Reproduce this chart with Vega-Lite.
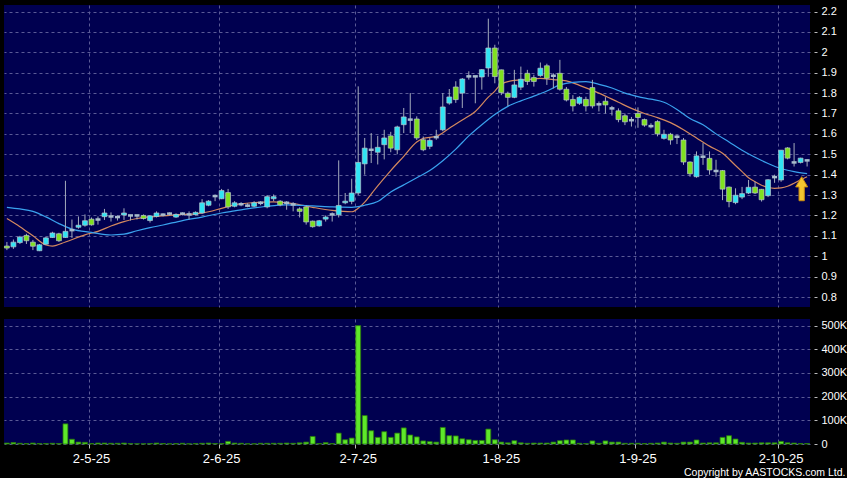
{
  "$schema": "https://vega.github.io/schema/vega-lite/v6.json",
  "background": "#000000",
  "padding": {"left": 4, "top": 5, "right": 0, "bottom": 0},
  "spacing": 12,
  "config": {
    "view": {"fill": "#000050", "stroke": null},
    "axis": {"labelColor": "#ffffff", "labelFont": "Liberation Sans", "labelFontSize": 11, "gridColor": "#5a5a96", "gridDash": [3, 3], "gridWidth": 1, "domain": false, "tickColor": "#bbbbbb", "titleColor": "#ffffff"}
  },
  "datasets": {
    "candles": [
      {"d":"2025-04-10","o":1.05,"h":1.07,"l":1.03,"c":1.04,"v":4000},
      {"d":"2025-04-11","o":1.046,"h":1.082,"l":1.036,"c":1.069,"v":6000},
      {"d":"2025-04-14","o":1.067,"h":1.10,"l":1.06,"c":1.094,"v":3000},
      {"d":"2025-04-15","o":1.102,"h":1.11,"l":1.06,"c":1.076,"v":2000},
      {"d":"2025-04-16","o":1.069,"h":1.08,"l":1.03,"c":1.049,"v":4000},
      {"d":"2025-04-17","o":1.027,"h":1.06,"l":1.025,"c":1.056,"v":2000},
      {"d":"2025-04-22","o":1.059,"h":1.095,"l":1.055,"c":1.09,"v":2000},
      {"d":"2025-04-23","o":1.092,"h":1.12,"l":1.09,"c":1.114,"v":3000},
      {"d":"2025-04-24","o":1.11,"h":1.115,"l":1.07,"c":1.076,"v":2000},
      {"d":"2025-04-25","o":1.092,"h":1.37,"l":1.09,"c":1.122,"v":85000},
      {"d":"2025-04-28","o":1.128,"h":1.18,"l":1.09,"c":1.128,"v":20000},
      {"d":"2025-04-29","o":1.142,"h":1.195,"l":1.135,"c":1.152,"v":8000},
      {"d":"2025-04-30","o":1.152,"h":1.205,"l":1.145,"c":1.174,"v":7000},
      {"d":"2025-05-02","o":1.182,"h":1.19,"l":1.15,"c":1.154,"v":2000},
      {"d":"2025-05-06","o":1.18,"h":1.195,"l":1.155,"c":1.18,"v":4000},
      {"d":"2025-05-07","o":1.194,"h":1.232,"l":1.178,"c":1.212,"v":4000},
      {"d":"2025-05-08","o":1.195,"h":1.215,"l":1.17,"c":1.195,"v":3000},
      {"d":"2025-05-09","o":1.192,"h":1.20,"l":1.175,"c":1.192,"v":3000},
      {"d":"2025-05-12","o":1.202,"h":1.235,"l":1.178,"c":1.212,"v":4000},
      {"d":"2025-05-13","o":1.20,"h":1.203,"l":1.175,"c":1.20,"v":2000},
      {"d":"2025-05-14","o":1.20,"h":1.203,"l":1.18,"c":1.20,"v":1000},
      {"d":"2025-05-15","o":1.20,"h":1.205,"l":1.18,"c":1.185,"v":1000},
      {"d":"2025-05-16","o":1.175,"h":1.20,"l":1.165,"c":1.198,"v":2000},
      {"d":"2025-05-19","o":1.195,"h":1.22,"l":1.19,"c":1.212,"v":4000},
      {"d":"2025-05-20","o":1.204,"h":1.21,"l":1.195,"c":1.204,"v":2000},
      {"d":"2025-05-21","o":1.209,"h":1.215,"l":1.20,"c":1.209,"v":1000},
      {"d":"2025-05-22","o":1.192,"h":1.21,"l":1.188,"c":1.205,"v":2000},
      {"d":"2025-05-23","o":1.209,"h":1.215,"l":1.20,"c":1.209,"v":3000},
      {"d":"2025-05-26","o":1.205,"h":1.22,"l":1.18,"c":1.205,"v":1000},
      {"d":"2025-05-27","o":1.204,"h":1.22,"l":1.20,"c":1.215,"v":2000},
      {"d":"2025-05-28","o":1.212,"h":1.28,"l":1.208,"c":1.262,"v":3000},
      {"d":"2025-05-29","o":1.25,"h":1.275,"l":1.245,"c":1.27,"v":4000},
      {"d":"2025-05-30","o":1.295,"h":1.303,"l":1.27,"c":1.295,"v":2000},
      {"d":"2025-06-02","o":1.282,"h":1.33,"l":1.28,"c":1.322,"v":2000},
      {"d":"2025-06-03","o":1.312,"h":1.33,"l":1.232,"c":1.242,"v":11000},
      {"d":"2025-06-04","o":1.245,"h":1.27,"l":1.24,"c":1.262,"v":4000},
      {"d":"2025-06-05","o":1.255,"h":1.265,"l":1.245,"c":1.255,"v":3000},
      {"d":"2025-06-06","o":1.248,"h":1.26,"l":1.24,"c":1.248,"v":1000},
      {"d":"2025-06-09","o":1.245,"h":1.27,"l":1.24,"c":1.262,"v":1000},
      {"d":"2025-06-10","o":1.262,"h":1.27,"l":1.25,"c":1.262,"v":3000},
      {"d":"2025-06-11","o":1.242,"h":1.30,"l":1.235,"c":1.292,"v":3000},
      {"d":"2025-06-12","o":1.282,"h":1.303,"l":1.27,"c":1.292,"v":3000},
      {"d":"2025-06-13","o":1.27,"h":1.275,"l":1.245,"c":1.252,"v":3000},
      {"d":"2025-06-16","o":1.262,"h":1.27,"l":1.228,"c":1.262,"v":4000},
      {"d":"2025-06-17","o":1.254,"h":1.265,"l":1.22,"c":1.254,"v":3000},
      {"d":"2025-06-18","o":1.232,"h":1.24,"l":1.19,"c":1.22,"v":5000},
      {"d":"2025-06-19","o":1.242,"h":1.25,"l":1.155,"c":1.168,"v":8000},
      {"d":"2025-06-20","o":1.172,"h":1.175,"l":1.14,"c":1.145,"v":32000},
      {"d":"2025-06-23","o":1.149,"h":1.178,"l":1.145,"c":1.174,"v":2000},
      {"d":"2025-06-24","o":1.182,"h":1.20,"l":1.17,"c":1.192,"v":6000},
      {"d":"2025-06-25","o":1.205,"h":1.215,"l":1.17,"c":1.205,"v":2000},
      {"d":"2025-06-26","o":1.203,"h":1.47,"l":1.19,"c":1.249,"v":46000},
      {"d":"2025-06-27","o":1.262,"h":1.31,"l":1.255,"c":1.27,"v":18000},
      {"d":"2025-06-30","o":1.269,"h":1.38,"l":1.255,"c":1.31,"v":25000},
      {"d":"2025-07-02","o":1.31,"h":1.833,"l":1.30,"c":1.46,"v":500000},
      {"d":"2025-07-03","o":1.453,"h":1.58,"l":1.40,"c":1.53,"v":120000},
      {"d":"2025-07-04","o":1.522,"h":1.604,"l":1.457,"c":1.522,"v":56000},
      {"d":"2025-07-07","o":1.51,"h":1.59,"l":1.45,"c":1.534,"v":28000},
      {"d":"2025-07-08","o":1.547,"h":1.62,"l":1.475,"c":1.58,"v":52000},
      {"d":"2025-07-09","o":1.59,"h":1.61,"l":1.51,"c":1.53,"v":28000},
      {"d":"2025-07-10","o":1.522,"h":1.64,"l":1.50,"c":1.634,"v":46000},
      {"d":"2025-07-11","o":1.645,"h":1.727,"l":1.604,"c":1.683,"v":68000},
      {"d":"2025-07-14","o":1.67,"h":1.80,"l":1.604,"c":1.67,"v":38000},
      {"d":"2025-07-15","o":1.673,"h":1.686,"l":1.57,"c":1.58,"v":30000},
      {"d":"2025-07-16","o":1.571,"h":1.587,"l":1.515,"c":1.522,"v":13000},
      {"d":"2025-07-17","o":1.539,"h":1.58,"l":1.525,"c":1.568,"v":10000},
      {"d":"2025-07-18","o":1.584,"h":1.62,"l":1.571,"c":1.584,"v":8000},
      {"d":"2025-07-21","o":1.62,"h":1.80,"l":1.613,"c":1.732,"v":70000},
      {"d":"2025-07-22","o":1.751,"h":1.82,"l":1.743,"c":1.781,"v":35000},
      {"d":"2025-07-23","o":1.83,"h":1.858,"l":1.752,"c":1.768,"v":34000},
      {"d":"2025-07-24","o":1.80,"h":1.874,"l":1.727,"c":1.869,"v":22000},
      {"d":"2025-07-25","o":1.882,"h":1.907,"l":1.866,"c":1.882,"v":18000},
      {"d":"2025-07-28","o":1.882,"h":1.885,"l":1.75,"c":1.882,"v":15000},
      {"d":"2025-07-29","o":1.879,"h":1.918,"l":1.817,"c":1.915,"v":15000},
      {"d":"2025-07-30","o":1.923,"h":2.165,"l":1.88,"c":2.021,"v":63000},
      {"d":"2025-07-31","o":2.021,"h":2.037,"l":1.848,"c":1.881,"v":18000},
      {"d":"2025-08-01","o":1.914,"h":1.915,"l":1.79,"c":1.802,"v":8000},
      {"d":"2025-08-04","o":1.799,"h":1.807,"l":1.737,"c":1.779,"v":5000},
      {"d":"2025-08-05","o":1.779,"h":1.914,"l":1.775,"c":1.84,"v":14000},
      {"d":"2025-08-06","o":1.829,"h":1.93,"l":1.815,"c":1.868,"v":5000},
      {"d":"2025-08-07","o":1.897,"h":1.914,"l":1.84,"c":1.857,"v":3000},
      {"d":"2025-08-08","o":1.876,"h":1.89,"l":1.832,"c":1.857,"v":4000},
      {"d":"2025-08-11","o":1.886,"h":1.95,"l":1.88,"c":1.922,"v":4000},
      {"d":"2025-08-12","o":1.934,"h":1.944,"l":1.84,"c":1.873,"v":4000},
      {"d":"2025-08-13","o":1.885,"h":1.897,"l":1.823,"c":1.885,"v":8000},
      {"d":"2025-08-14","o":1.897,"h":1.963,"l":1.812,"c":1.819,"v":14000},
      {"d":"2025-08-15","o":1.819,"h":1.83,"l":1.759,"c":1.766,"v":17000},
      {"d":"2025-08-18","o":1.769,"h":1.79,"l":1.71,"c":1.737,"v":17000},
      {"d":"2025-08-19","o":1.75,"h":1.785,"l":1.742,"c":1.779,"v":3000},
      {"d":"2025-08-20","o":1.769,"h":1.782,"l":1.71,"c":1.737,"v":2000},
      {"d":"2025-08-21","o":1.827,"h":1.865,"l":1.725,"c":1.737,"v":13000},
      {"d":"2025-08-22","o":1.745,"h":1.759,"l":1.71,"c":1.745,"v":3000},
      {"d":"2025-08-25","o":1.76,"h":1.78,"l":1.70,"c":1.742,"v":13000},
      {"d":"2025-08-26","o":1.725,"h":1.737,"l":1.69,"c":1.725,"v":8000},
      {"d":"2025-08-27","o":1.713,"h":1.725,"l":1.657,"c":1.67,"v":8000},
      {"d":"2025-08-28","o":1.689,"h":1.70,"l":1.643,"c":1.659,"v":3000},
      {"d":"2025-08-29","o":1.667,"h":1.683,"l":1.636,"c":1.667,"v":3000},
      {"d":"2025-09-01","o":1.70,"h":1.73,"l":1.63,"c":1.68,"v":3000},
      {"d":"2025-09-02","o":1.67,"h":1.675,"l":1.635,"c":1.643,"v":2000},
      {"d":"2025-09-03","o":1.638,"h":1.652,"l":1.627,"c":1.638,"v":3000},
      {"d":"2025-09-04","o":1.66,"h":1.667,"l":1.588,"c":1.60,"v":4000},
      {"d":"2025-09-05","o":1.578,"h":1.62,"l":1.572,"c":1.598,"v":8000},
      {"d":"2025-09-08","o":1.598,"h":1.605,"l":1.547,"c":1.57,"v":4000},
      {"d":"2025-09-09","o":1.586,"h":1.594,"l":1.55,"c":1.586,"v":3000},
      {"d":"2025-09-10","o":1.57,"h":1.58,"l":1.448,"c":1.462,"v":8000},
      {"d":"2025-09-11","o":1.462,"h":1.465,"l":1.39,"c":1.404,"v":8000},
      {"d":"2025-09-12","o":1.39,"h":1.514,"l":1.385,"c":1.492,"v":17000},
      {"d":"2025-09-15","o":1.488,"h":1.555,"l":1.448,"c":1.488,"v":4000},
      {"d":"2025-09-16","o":1.48,"h":1.514,"l":1.40,"c":1.423,"v":5000},
      {"d":"2025-09-17","o":1.418,"h":1.473,"l":1.39,"c":1.418,"v":5000},
      {"d":"2025-09-18","o":1.42,"h":1.423,"l":1.275,"c":1.329,"v":28000},
      {"d":"2025-09-19","o":1.339,"h":1.342,"l":1.24,"c":1.268,"v":35000},
      {"d":"2025-09-22","o":1.263,"h":1.333,"l":1.255,"c":1.299,"v":21000},
      {"d":"2025-09-23","o":1.29,"h":1.34,"l":1.28,"c":1.307,"v":7000},
      {"d":"2025-09-24","o":1.31,"h":1.374,"l":1.305,"c":1.338,"v":4000},
      {"d":"2025-09-25","o":1.339,"h":1.366,"l":1.305,"c":1.31,"v":4000},
      {"d":"2025-09-26","o":1.328,"h":1.33,"l":1.268,"c":1.277,"v":5000},
      {"d":"2025-09-29","o":1.297,"h":1.378,"l":1.29,"c":1.375,"v":5000},
      {"d":"2025-09-30","o":1.388,"h":1.40,"l":1.36,"c":1.388,"v":5000},
      {"d":"2025-10-02","o":1.374,"h":1.52,"l":1.365,"c":1.52,"v":11000},
      {"d":"2025-10-03","o":1.531,"h":1.535,"l":1.475,"c":1.481,"v":5000},
      {"d":"2025-10-06","o":1.46,"h":1.555,"l":1.44,"c":1.46,"v":4000},
      {"d":"2025-10-08","o":1.46,"h":1.483,"l":1.455,"c":1.481,"v":2000},
      {"d":"2025-10-09","o":1.47,"h":1.475,"l":1.44,"c":1.47,"v":2000}
    ],
    "ma": [
      {"d":"2025-04-10","s":"m10","v":1.185},{"d":"2025-04-14","s":"m10","v":1.145},{"d":"2025-04-16","s":"m10","v":1.10},
      {"d":"2025-04-22","s":"m10","v":1.055},{"d":"2025-04-23","s":"m10","v":1.05},{"d":"2025-04-25","s":"m10","v":1.07},
      {"d":"2025-04-30","s":"m10","v":1.105},{"d":"2025-05-06","s":"m10","v":1.122},{"d":"2025-05-08","s":"m10","v":1.148},
      {"d":"2025-05-12","s":"m10","v":1.17},{"d":"2025-05-14","s":"m10","v":1.185},{"d":"2025-05-19","s":"m10","v":1.195},
      {"d":"2025-05-22","s":"m10","v":1.203},{"d":"2025-05-27","s":"m10","v":1.208},{"d":"2025-05-29","s":"m10","v":1.218},
      {"d":"2025-06-02","s":"m10","v":1.235},{"d":"2025-06-04","s":"m10","v":1.252},{"d":"2025-06-09","s":"m10","v":1.263},
      {"d":"2025-06-12","s":"m10","v":1.267},{"d":"2025-06-17","s":"m10","v":1.258},{"d":"2025-06-20","s":"m10","v":1.24},
      {"d":"2025-06-25","s":"m10","v":1.225},{"d":"2025-06-30","s":"m10","v":1.218},{"d":"2025-07-02","s":"m10","v":1.235},
      {"d":"2025-07-03","s":"m10","v":1.265},{"d":"2025-07-04","s":"m10","v":1.305},{"d":"2025-07-07","s":"m10","v":1.345},
      {"d":"2025-07-09","s":"m10","v":1.42},{"d":"2025-07-11","s":"m10","v":1.49},{"d":"2025-07-15","s":"m10","v":1.56},
      {"d":"2025-07-16","s":"m10","v":1.578},{"d":"2025-07-18","s":"m10","v":1.588},{"d":"2025-07-22","s":"m10","v":1.628},
      {"d":"2025-07-24","s":"m10","v":1.668},{"d":"2025-07-28","s":"m10","v":1.71},{"d":"2025-07-30","s":"m10","v":1.78},
      {"d":"2025-07-31","s":"m10","v":1.81},{"d":"2025-08-01","s":"m10","v":1.845},{"d":"2025-08-05","s":"m10","v":1.862},
      {"d":"2025-08-07","s":"m10","v":1.866},{"d":"2025-08-11","s":"m10","v":1.872},{"d":"2025-08-13","s":"m10","v":1.866},
      {"d":"2025-08-15","s":"m10","v":1.86},{"d":"2025-08-19","s":"m10","v":1.838},{"d":"2025-08-22","s":"m10","v":1.80},
      {"d":"2025-08-27","s":"m10","v":1.755},{"d":"2025-08-29","s":"m10","v":1.725},{"d":"2025-09-02","s":"m10","v":1.70},
      {"d":"2025-09-04","s":"m10","v":1.68},{"d":"2025-09-08","s":"m10","v":1.655},{"d":"2025-09-10","s":"m10","v":1.62},
      {"d":"2025-09-12","s":"m10","v":1.58},{"d":"2025-09-16","s":"m10","v":1.54},{"d":"2025-09-18","s":"m10","v":1.505},
      {"d":"2025-09-22","s":"m10","v":1.445},{"d":"2025-09-23","s":"m10","v":1.415},{"d":"2025-09-24","s":"m10","v":1.385},
      {"d":"2025-09-25","s":"m10","v":1.365},{"d":"2025-09-26","s":"m10","v":1.348},{"d":"2025-09-29","s":"m10","v":1.337},
      {"d":"2025-09-30","s":"m10","v":1.333},{"d":"2025-10-02","s":"m10","v":1.335},{"d":"2025-10-03","s":"m10","v":1.343},
      {"d":"2025-10-06","s":"m10","v":1.358},{"d":"2025-10-08","s":"m10","v":1.375},{"d":"2025-10-09","s":"m10","v":1.39},
      {"d":"2025-04-10","s":"m20","v":1.24},{"d":"2025-04-14","s":"m20","v":1.232},{"d":"2025-04-16","s":"m20","v":1.22},
      {"d":"2025-04-22","s":"m20","v":1.193},{"d":"2025-04-24","s":"m20","v":1.16},{"d":"2025-04-28","s":"m20","v":1.133},
      {"d":"2025-05-02","s":"m20","v":1.117},{"d":"2025-05-08","s":"m20","v":1.104},{"d":"2025-05-12","s":"m20","v":1.108},
      {"d":"2025-05-14","s":"m20","v":1.125},{"d":"2025-05-16","s":"m20","v":1.14},{"d":"2025-05-20","s":"m20","v":1.153},
      {"d":"2025-05-23","s":"m20","v":1.175},{"d":"2025-05-28","s":"m20","v":1.192},{"d":"2025-06-02","s":"m20","v":1.212},
      {"d":"2025-06-04","s":"m20","v":1.222},{"d":"2025-06-09","s":"m20","v":1.237},{"d":"2025-06-11","s":"m20","v":1.245},
      {"d":"2025-06-16","s":"m20","v":1.252},{"d":"2025-06-20","s":"m20","v":1.247},{"d":"2025-06-25","s":"m20","v":1.242},
      {"d":"2025-06-30","s":"m20","v":1.24},{"d":"2025-07-03","s":"m20","v":1.25},{"d":"2025-07-07","s":"m20","v":1.268},
      {"d":"2025-07-09","s":"m20","v":1.315},{"d":"2025-07-11","s":"m20","v":1.35},{"d":"2025-07-15","s":"m20","v":1.385},
      {"d":"2025-07-17","s":"m20","v":1.42},{"d":"2025-07-21","s":"m20","v":1.468},{"d":"2025-07-23","s":"m20","v":1.525},
      {"d":"2025-07-25","s":"m20","v":1.59},{"d":"2025-07-29","s":"m20","v":1.645},{"d":"2025-07-31","s":"m20","v":1.695},
      {"d":"2025-08-04","s":"m20","v":1.735},{"d":"2025-08-06","s":"m20","v":1.762},{"d":"2025-08-08","s":"m20","v":1.785},
      {"d":"2025-08-12","s":"m20","v":1.81},{"d":"2025-08-14","s":"m20","v":1.84},{"d":"2025-08-18","s":"m20","v":1.853},
      {"d":"2025-08-20","s":"m20","v":1.856},{"d":"2025-08-22","s":"m20","v":1.843},{"d":"2025-08-26","s":"m20","v":1.825},
      {"d":"2025-08-28","s":"m20","v":1.80},{"d":"2025-09-01","s":"m20","v":1.783},{"d":"2025-09-03","s":"m20","v":1.77},
      {"d":"2025-09-05","s":"m20","v":1.755},{"d":"2025-09-09","s":"m20","v":1.72},{"d":"2025-09-11","s":"m20","v":1.675},
      {"d":"2025-09-15","s":"m20","v":1.645},{"d":"2025-09-17","s":"m20","v":1.60},{"d":"2025-09-19","s":"m20","v":1.56},
      {"d":"2025-09-23","s":"m20","v":1.52},{"d":"2025-09-25","s":"m20","v":1.485},{"d":"2025-09-29","s":"m20","v":1.455},
      {"d":"2025-10-02","s":"m20","v":1.43},{"d":"2025-10-06","s":"m20","v":1.415},{"d":"2025-10-09","s":"m20","v":1.405}
    ],
    "marker": [{"d":"2025-10-09","p":1.331}]
  },
  "vconcat": [
    {
      "width": 806,
      "height": 302,
      "encoding": {
        "x": {"field": "d", "type": "ordinal", "scale": {"paddingInner": 0.25, "paddingOuter": 0.07},
              "axis": {"values": ["2025-05-02","2025-06-02","2025-07-02","2025-08-01","2025-09-01","2025-10-02"], "bandPosition": 0, "labels": false, "ticks": false, "grid": true, "title": null}}
      },
      "layer": [
        {
          "data": {"name": "ma"},
          "mark": {"type": "line", "strokeWidth": 1.2, "interpolate": "monotone"},
          "encoding": {
            "y": {"field": "v", "type": "quantitative", "scale": {"domain": [0.751, 2.232], "nice": false, "zero": false},
                  "axis": {"orient": "right", "values": [0.8,0.9,1,1.1,1.2,1.3,1.4,1.5,1.6,1.7,1.8,1.9,2,2.1,2.2], "labelExpr": "format(datum.value, '.1~f')", "title": null, "offset": 4, "tickSize": 3, "labelPadding": 4, "grid": true}},
            "color": {"field": "s", "type": "nominal", "scale": {"domain": ["m10","m20"], "range": ["#d4895f","#3aa2ee"]}, "legend": null}
          }
        },
        {
          "data": {"name": "candles"},
          "mark": {"type": "rule", "color": "#a4acbc", "strokeWidth": 1},
          "encoding": {
            "y": {"field": "l", "type": "quantitative", "scale": {"domain": [0.751, 2.232], "nice": false, "zero": false}, "axis": {"orient": "right", "values": [0.8,0.9,1,1.1,1.2,1.3,1.4,1.5,1.6,1.7,1.8,1.9,2,2.1,2.2], "labelExpr": "format(datum.value, '.1~f')", "title": null, "offset": 4, "tickSize": 3, "labelPadding": 4, "grid": true}},
            "y2": {"field": "h"}
          }
        },
        {
          "data": {"name": "candles"},
          "transform": [{"filter": "datum.o != datum.c"}],
          "mark": {"type": "bar", "stroke": "#b8c4cc", "strokeWidth": 0.7},
          "encoding": {
            "y": {"field": "o", "type": "quantitative", "scale": {"domain": [0.751, 2.232], "nice": false, "zero": false}, "axis": {"orient": "right", "values": [0.8,0.9,1,1.1,1.2,1.3,1.4,1.5,1.6,1.7,1.8,1.9,2,2.1,2.2], "labelExpr": "format(datum.value, '.1~f')", "title": null, "offset": 4, "tickSize": 3, "labelPadding": 4, "grid": true}},
            "y2": {"field": "c"},
            "fill": {"condition": {"test": "datum.c > datum.o", "value": "#30e4f4"}, "value": "#80e020"}
          }
        },
        {
          "data": {"name": "candles"},
          "transform": [{"filter": "datum.o == datum.c"}],
          "mark": {"type": "tick", "color": "#a8bccc", "thickness": 2.5, "size": 5, "opacity": 1},
          "encoding": {
            "y": {"field": "o", "type": "quantitative", "scale": {"domain": [0.751, 2.232], "nice": false, "zero": false}, "axis": {"orient": "right", "values": [0.8,0.9,1,1.1,1.2,1.3,1.4,1.5,1.6,1.7,1.8,1.9,2,2.1,2.2], "labelExpr": "format(datum.value, '.1~f')", "title": null, "offset": 4, "tickSize": 3, "labelPadding": 4, "grid": true}}
          }
        },
        {
          "data": {"name": "marker"},
          "mark": {"type": "point", "shape": "M0,-1L0.5,-0.15L0.22,-0.15L0.22,1L-0.22,1L-0.22,-0.15L-0.5,-0.15Z", "filled": true, "size": 576, "fill": "#f4c630", "stroke": "#c98a10", "strokeWidth": 1, "opacity": 1},
          "encoding": {
            "y": {"field": "p", "type": "quantitative", "scale": {"domain": [0.751, 2.232], "nice": false, "zero": false}, "axis": {"orient": "right", "values": [0.8,0.9,1,1.1,1.2,1.3,1.4,1.5,1.6,1.7,1.8,1.9,2,2.1,2.2], "labelExpr": "format(datum.value, '.1~f')", "title": null, "offset": 4, "tickSize": 3, "labelPadding": 4, "grid": true}},
            "xOffset": {"value": -3}
          }
        }
      ]
    },
    {
      "width": 806,
      "height": 125,
      "data": {"name": "candles"},
      "mark": {"type": "bar", "fill": "#5ee82a", "stroke": "#2a7a0a", "strokeWidth": 0.8},
      "encoding": {
        "x": {"field": "d", "type": "ordinal", "scale": {"paddingInner": 0.25, "paddingOuter": 0.07},
              "axis": {"values": ["2025-05-02","2025-06-02","2025-07-02","2025-08-01","2025-09-01","2025-10-02"], "bandPosition": 0, "labels": true, "ticks": true, "tickSize": 4, "grid": true, "labelAngle": 0,
                       "labelExpr": "parseInt(slice(datum.value,8,10)) + '-' + parseInt(slice(datum.value,5,7)) + '-' + slice(datum.value,2,4)",
                       "labelFontSize": 13, "labelPadding": 14, "labelBaseline": "alphabetic",
                       "title": "Copyright by AASTOCKS.com Ltd.", "titleFont": "Liberation Sans", "titleFontSize": 10.5, "titleFontWeight": "normal", "titleX": 841, "titleY": 31, "titleAlign": "right", "titleAnchor": "end", "titleBaseline": "alphabetic"}},
        "y": {"field": "v", "type": "quantitative", "scale": {"domain": [0, 528000], "nice": false},
              "axis": {"orient": "right", "values": [0,100000,200000,300000,400000,500000], "labelExpr": "datum.value == 0 ? '0' : (datum.value/1000) + 'K'", "title": null, "offset": 4, "tickSize": 3, "labelPadding": 4, "grid": true}}
      }
    }
  ]
}
